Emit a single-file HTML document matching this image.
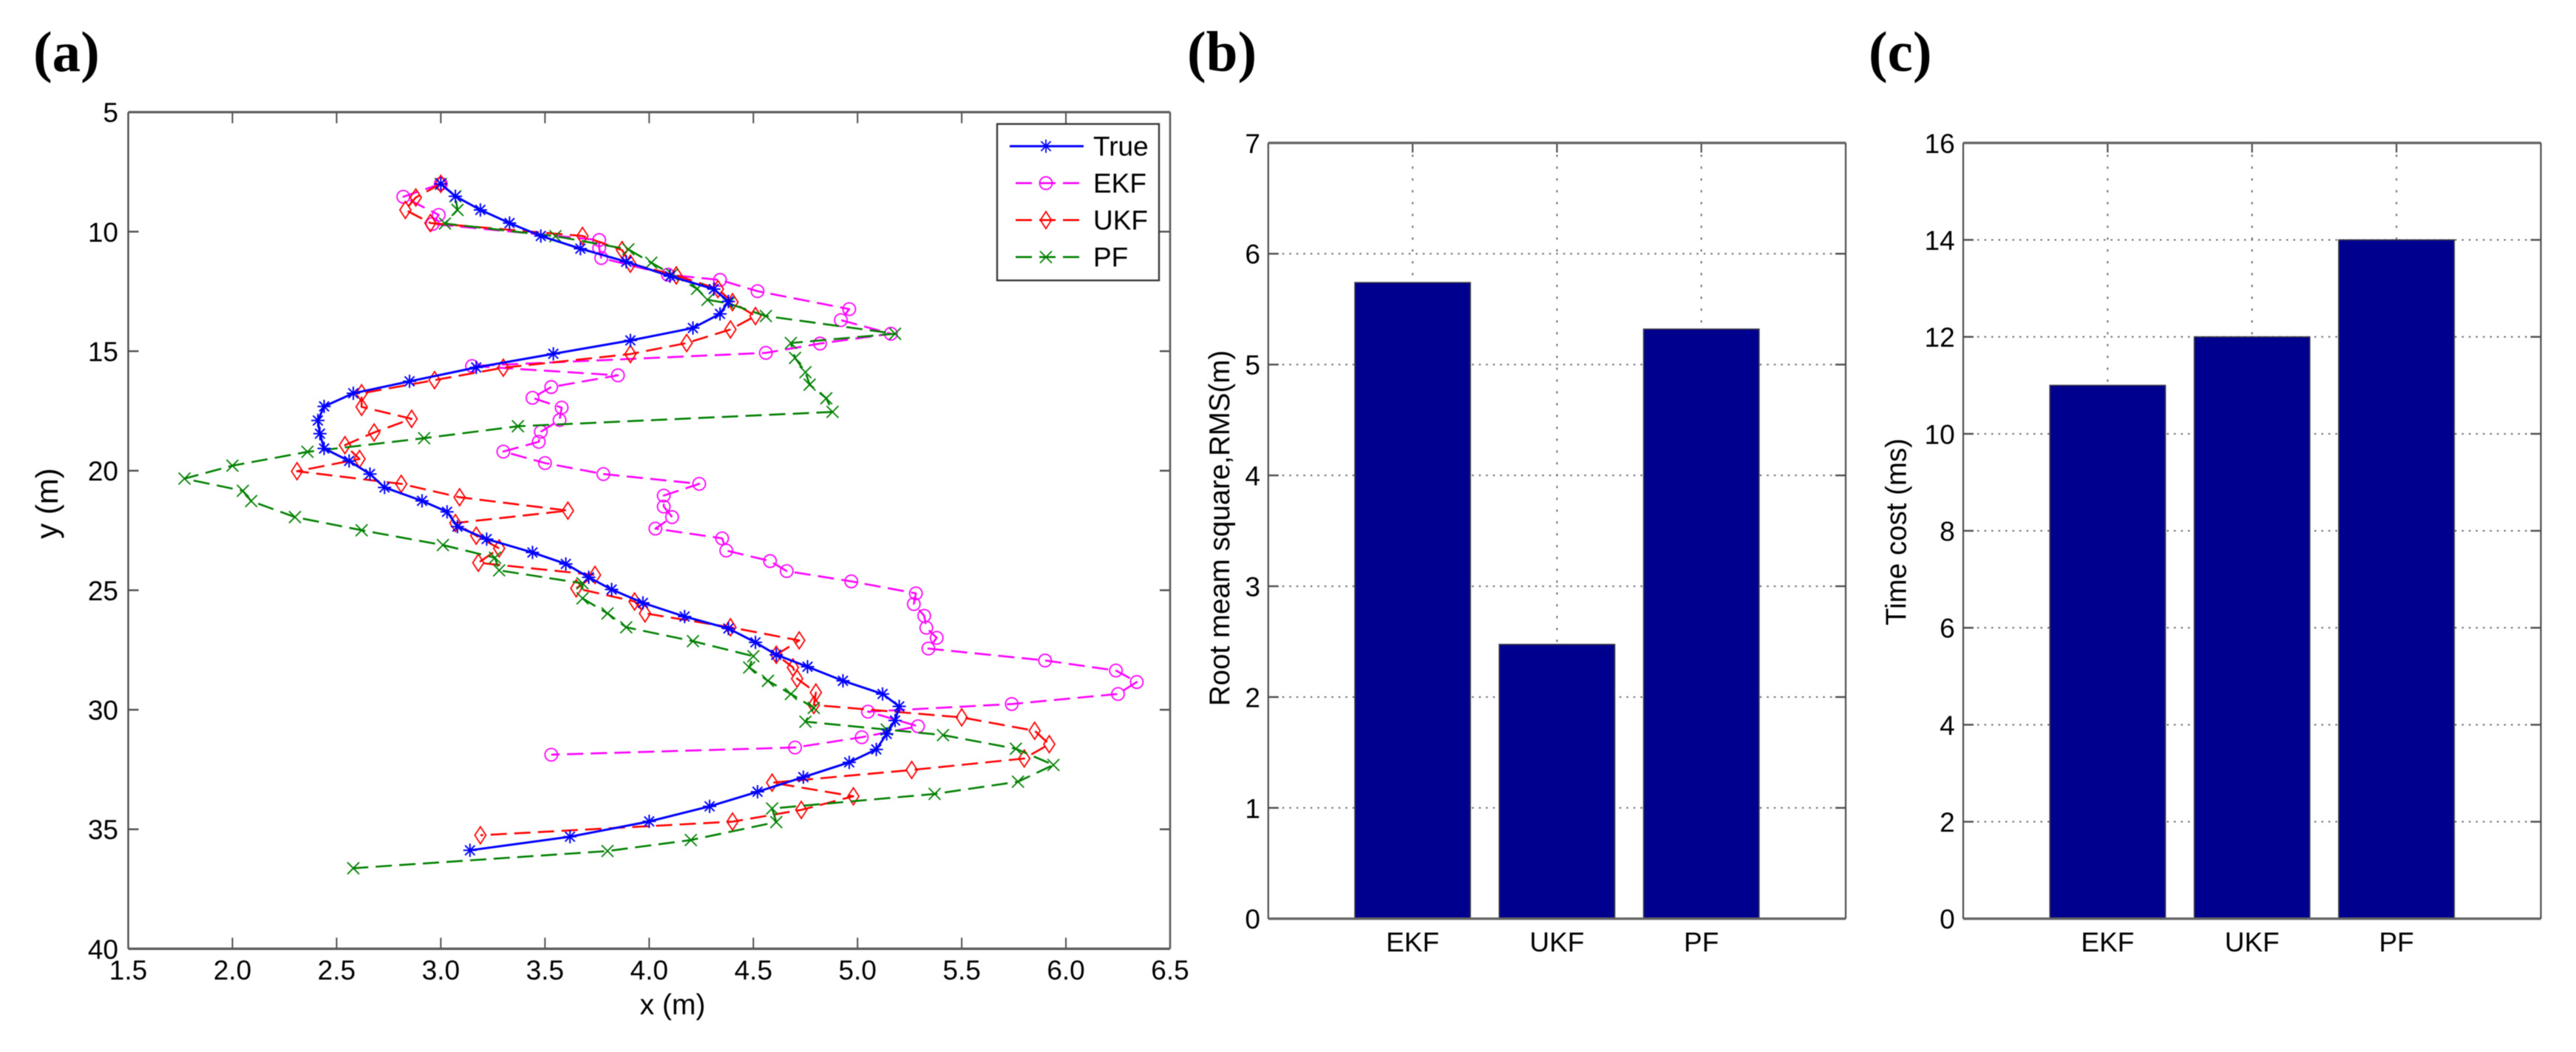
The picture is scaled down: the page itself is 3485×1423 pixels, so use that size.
<!DOCTYPE html>
<html lang="en">
<head>
<meta charset="utf-8">
<title>Tracking comparison of True, EKF, UKF and PF</title>
<style>
html,body{margin:0;padding:0;background:#fff;}
#figure{display:block;filter:blur(0.6px);}
text{font-family:"Liberation Sans",sans-serif;fill:#000;}
.panel-letter{font-family:"Liberation Serif",serif;font-weight:bold;font-size:77px;}
.axis-title{font-size:38.5px;}
</style>
</head>
<body>
<svg id="figure" xmlns="http://www.w3.org/2000/svg" width="3485" height="1423" viewBox="0 0 3485 1423">
  <rect x="0" y="0" width="3485" height="1423" fill="#ffffff"/>
  <text class="panel-letter" x="45" y="96">(a)</text>
  <text class="panel-letter" x="1606" y="96">(b)</text>
  <text class="panel-letter" x="2528" y="96">(c)</text>
  <g id="panel-a"></g>
  <g id="panel-b"></g>
  <g id="panel-c"></g>
  <text class="axis-title" x="910" y="1372" text-anchor="middle" style="font-size:39px">x (m)</text>
  <text class="axis-title" transform="translate(78,681) rotate(-90)" text-anchor="middle" style="font-size:42px">y (m)</text>
  <text class="axis-title" transform="translate(1663,955) rotate(-90)">Root meam square,RMS(m)</text>
  <text class="axis-title" transform="translate(2578.5,846) rotate(-90)">Time cost (ms)</text>
</svg>
<script>
const xTickValues = [1.5, 2.0, 2.5, 3.0, 3.5, 4.0, 4.5, 5.0, 5.5, 6.0, 6.5];
const xTickLabels = ["1.5", "2.0", "2.5", "3.0", "3.5", "4.0", "4.5", "5.0", "5.5", "6.0", "6.5"];
const yTickValues = [5, 10, 15, 20, 25, 30, 35, 40];
const yTickLabels = ["5", "10", "15", "20", "25", "30", "35", "40"];

const trueX = [3.0,3.07,3.19,3.33,3.48,3.67,3.89,4.10,4.31,4.38,4.34,4.21,3.91,3.54,3.17,2.85,2.58,2.44,2.41,2.42,2.44,2.56,2.66,2.73,2.91,3.03,3.08,3.22,3.44,3.60,3.71,3.82,3.97,4.17,4.38,4.51,4.61,4.76,4.93,5.12,5.2,5.18,5.14,5.09,4.96,4.74,4.52,4.29,4.0,3.62,3.14];
const trueY = [8.0,8.52,9.09,9.64,10.18,10.71,11.26,11.86,12.4,12.92,13.44,14.03,14.55,15.11,15.68,16.26,16.76,17.31,17.9,18.45,19.07,19.59,20.14,20.7,21.26,21.72,22.34,22.86,23.42,23.9,24.46,24.97,25.53,26.1,26.6,27.18,27.7,28.2,28.79,29.34,29.86,30.45,31.01,31.66,32.2,32.82,33.43,34.04,34.67,35.31,35.88];

const ekfX = [3.0,2.82,2.99,2.96,3.76,3.76,3.77,4.09,4.34,4.52,4.96,4.92,5.16,4.82,4.56,3.15,3.85,3.53,3.44,3.58,3.57,3.48,3.47,3.30,3.50,3.78,4.24,4.07,4.07,4.11,4.03,4.35,4.37,4.58,4.66,4.97,5.28,5.27,5.32,5.33,5.38,5.34,5.9,6.24,6.34,6.25,5.74,5.05,5.29,5.02,4.70,3.53];
const ekfY = [8.0,8.54,9.3,9.68,10.35,10.68,11.1,11.8,12.02,12.49,13.24,13.7,14.27,14.68,15.07,15.62,16.01,16.5,16.95,17.36,17.88,18.37,18.79,19.2,19.68,20.14,20.55,21.04,21.5,21.94,22.42,22.83,23.34,23.78,24.2,24.63,25.13,25.58,26.07,26.57,26.99,27.44,27.94,28.36,28.84,29.34,29.76,30.08,30.69,31.15,31.58,31.88];

const ukfX = [3.0,2.88,2.83,2.95,3.68,3.87,3.91,4.13,4.33,4.40,4.51,4.39,4.18,3.91,3.30,2.97,2.62,2.62,2.86,2.68,2.54,2.61,2.31,2.81,3.09,3.61,3.07,3.17,3.28,3.18,3.74,3.65,3.93,3.98,4.39,4.72,4.61,4.69,4.71,4.80,4.79,5.5,5.85,5.92,5.8,5.26,4.59,4.98,4.73,4.4,3.19];
const ukfY = [8.0,8.57,9.09,9.64,10.18,10.77,11.34,11.83,12.4,12.95,13.53,14.09,14.66,15.12,15.69,16.21,16.76,17.33,17.83,18.4,18.93,19.51,20.02,20.55,21.11,21.67,22.19,22.72,23.25,23.85,24.36,24.92,25.47,25.97,26.55,27.1,27.7,28.23,28.7,29.28,29.8,30.32,30.88,31.44,32.04,32.52,33.05,33.62,34.19,34.68,35.25];

const pfX = [3.0,3.07,3.08,3.02,3.55,3.9,4.01,4.11,4.23,4.28,4.38,4.56,5.18,4.68,4.70,4.75,4.77,4.85,4.88,3.37,2.92,2.36,2.0,1.77,2.05,2.09,2.30,2.62,3.01,3.26,3.28,3.68,3.68,3.80,3.89,4.21,4.5,4.48,4.57,4.68,4.79,4.75,5.14,5.41,5.76,5.94,5.77,5.37,4.59,4.61,4.2,3.80,2.58];
const pfY = [8.0,8.52,9.09,9.66,10.19,10.74,11.3,11.79,12.39,12.85,13.0,13.53,14.27,14.66,15.28,15.88,16.4,16.97,17.54,18.14,18.64,19.21,19.79,20.33,20.84,21.27,21.94,22.49,23.11,23.64,24.17,24.71,25.34,25.97,26.55,27.13,27.76,28.23,28.79,29.34,29.92,30.5,30.83,31.06,31.63,32.31,33.01,33.52,34.13,34.7,35.45,35.91,36.63];

const legendLabels = ["True", "EKF", "UKF", "PF"];

const barCategories = ["EKF", "UKF", "PF"];
const rmsValues = [5.74, 2.475, 5.32];
const rmsTicks = [0, 1, 2, 3, 4, 5, 6, 7];
const timeValues = [11, 12, 14];
const timeTicks = [0, 2, 4, 6, 8, 10, 12, 14, 16];

const SVGNS = "http://www.w3.org/2000/svg";
const AXIS_DARK = "#4d4d4d";

function make(parent, tag, attrs) {
  const el = document.createElementNS(SVGNS, tag);
  for (const k in attrs) el.setAttribute(k, attrs[k]);
  parent.appendChild(el);
  return el;
}

function seg(parent, name, x1, y1, x2, y2, stroke, width, dash) {
  const el = make(parent, "line", {x1: x1, y1: y1, x2: x2, y2: y2, stroke: stroke, "stroke-width": width});
  if (dash) el.setAttribute("stroke-dasharray", dash);
  
  
  return el;
}

function label(parent, name, x, y, str, anchor, size) {
  const el = make(parent, "text", {x: x, y: y, "text-anchor": anchor, "font-size": size});
  el.textContent = str;
  
  
  return el;
}

function markerPath(kind, x, y) {
  if (kind === "asterisk") {
    const r = 9, d = 6.6;
    return `M${x - r} ${y}H${x + r}M${x} ${y - r}V${y + r}M${x - d} ${y - d}L${x + d} ${y + d}M${x - d} ${y + d}L${x + d} ${y - d}`;
  }
  if (kind === "circle") {
    const r = 8.5;
    return `M${x - r} ${y}A${r} ${r} 0 1 0 ${x + r} ${y}A${r} ${r} 0 1 0 ${x - r} ${y}Z`;
  }
  if (kind === "diamond") {
    return `M${x} ${y - 11.5}L${x + 7.5} ${y}L${x} ${y + 11.5}L${x - 7.5} ${y}Z`;
  }
  const c = 8;
  return `M${x - c} ${y - c}L${x + c} ${y + c}M${x - c} ${y + c}L${x + c} ${y - c}`;
}

/* ---------- panel (a) ---------- */
const frameA = {left: 173.5, right: 1583, top: 151.7, bottom: 1283.4};
const xMinA = 1.5, xMaxA = 6.5, yMinA = 5, yMaxA = 40;

function xA(v) { return frameA.left + (v - xMinA) / (xMaxA - xMinA) * (frameA.right - frameA.left); }
function yA(v) { return frameA.top + (v - yMinA) / (yMaxA - yMinA) * (frameA.bottom - frameA.top); }

function drawSeries(parent, name, xs, ys, color, width, dash, kind) {
  const g = make(parent, "g", {});
  
  
  const pts = xs.map((v, i) => xA(v).toFixed(1) + "," + yA(ys[i]).toFixed(1)).join(" ");
  const line = make(g, "polyline", {points: pts, fill: "none", stroke: color, "stroke-width": width, "stroke-linejoin": "round"});
  if (dash) line.setAttribute("stroke-dasharray", dash);
  
  
  xs.forEach((v, i) => {
    const m = make(g, "path", {d: markerPath(kind, xA(v), yA(ys[i])), fill: "none", stroke: color, "stroke-width": kind === "asterisk" ? 2 : 1.8});
    
    
  });
}

function drawPanelA() {
  const p = document.getElementById("panel-a");
  xTickValues.forEach((v, i) => {
    if (i > 0 && i < xTickValues.length - 1) {
      seg(p, "x-tick-bottom", xA(v), frameA.bottom, xA(v), frameA.bottom - 15, AXIS_DARK, 2);
      seg(p, "x-tick-top", xA(v), frameA.top, xA(v), frameA.top + 15, AXIS_DARK, 2);
    }
    label(p, "x-tick-label", xA(v), 1325, xTickLabels[i], "middle", 37);
  });
  yTickValues.forEach((v, i) => {
    if (i > 0 && i < yTickValues.length - 1) {
      seg(p, "y-tick-left", frameA.left, yA(v), frameA.left + 14, yA(v), AXIS_DARK, 2.4);
      seg(p, "y-tick-right", frameA.right, yA(v), frameA.right - 14, yA(v), AXIS_DARK, 2.4);
    }
    label(p, "y-tick-label", 160, yA(v) + 13.5, yTickLabels[i], "end", 37);
  });
  seg(p, "axis-top", frameA.left, frameA.top, frameA.right, frameA.top, "#5a5a5a", 3.2);
  seg(p, "axis-bottom", frameA.left, frameA.bottom, frameA.right, frameA.bottom, "#5a5a5a", 3.2);
  seg(p, "axis-left", frameA.left, frameA.top, frameA.left, frameA.bottom, AXIS_DARK, 2.4);
  seg(p, "axis-right", frameA.right, frameA.top, frameA.right, frameA.bottom, "#5a5a5a", 2.6);

  drawSeries(p, "ekf", ekfX, ekfY, "#ff00ff", 2.6, "22 10", "circle");
  drawSeries(p, "ukf", ukfX, ukfY, "#ff0000", 2.6, "22 10", "diamond");
  drawSeries(p, "pf", pfX, pfY, "#008000", 2.6, "22 10", "x");
  drawSeries(p, "true", trueX, trueY, "#0000ff", 3, null, "asterisk");

  /* legend */
  const lg = make(p, "g", {});
  
  
  const box = make(lg, "rect", {x: 1349, y: 167.7, width: 219, height: 211.6, fill: "#ffffff", stroke: "#3a3a3a", "stroke-width": 2.4});
  
  
  const legendColors = ["#0000ff", "#ff00ff", "#ff0000", "#008000"];
  const legendKinds = ["asterisk", "circle", "diamond", "x"];
  legendLabels.forEach((t, i) => {
    const ly = 197.7 + i * 50;
    const sample = seg(lg, "legend-line", 1366 + (i ? 8 : 0), ly, 1466, ly, legendColors[i], i ? 2.6 : 3, i ? "22 10" : null);
    sample.setAttribute("stroke-dashoffset", i ? 0 : null);
    const m = make(lg, "path", {d: markerPath(legendKinds[i], 1415, ly), fill: "none", stroke: legendColors[i], "stroke-width": 1.8});
    
    
    label(lg, "legend-entry", 1479, ly + 13, t, "start", 37);
  });
}

/* ---------- panels (b), (c) ---------- */
function drawBars(panelId, frame, values, ticks, labelRight) {
  const p = document.getElementById(panelId);
  const yMax = ticks[ticks.length - 1];
  const xB = c => frame.left + (c + 1) / 4 * (frame.right - frame.left);
  const yB = v => frame.bottom - v / yMax * (frame.bottom - frame.top);
  const barW = 0.8 * (frame.right - frame.left) / 4;
  const GRID = "#6a6a6a";

  ticks.forEach(v => {
    if (v > 0 && v < yMax) {
      seg(p, "grid-horizontal", frame.left, yB(v), frame.right, yB(v), GRID, 2, "2.5 7");
      seg(p, "y-tick-left", frame.left, yB(v), frame.left + 14, yB(v), AXIS_DARK, 2.4);
      seg(p, "y-tick-right", frame.right, yB(v), frame.right - 14, yB(v), AXIS_DARK, 2.4);
    }
    label(p, "y-tick-label", labelRight, yB(v) + 13.5, String(v), "end", 37);
  });
  barCategories.forEach((c, i) => {
    seg(p, "grid-vertical", xB(i), frame.top, xB(i), frame.bottom, GRID, 2, "3 13");
    seg(p, "x-tick-top", xB(i), frame.top, xB(i), frame.top + 13, AXIS_DARK, 2.2);
    label(p, "x-tick-label", xB(i), 1287, c, "middle", 37);
  });
  values.forEach((v, i) => {
    const bar = make(p, "rect", {x: xB(i) - barW / 2, y: yB(v), width: barW, height: yB(0) - yB(v), fill: "#00008f", stroke: "#3c3c46", "stroke-width": 1.6});
    
    
  });
  seg(p, "axis-top", frame.left, frame.top, frame.right, frame.top, "#666666", 3.4);
  seg(p, "axis-bottom", frame.left, frame.bottom, frame.right, frame.bottom, "#666666", 3.4);
  seg(p, "axis-left", frame.left, frame.top, frame.left, frame.bottom, AXIS_DARK, 2.2);
  seg(p, "axis-right", frame.right, frame.top, frame.right, frame.bottom, AXIS_DARK, 2.2);
}

drawPanelA();
drawBars("panel-b", {left: 1715.8, right: 2497, top: 193.3, bottom: 1242.7}, rmsValues, rmsTicks, 1705);
drawBars("panel-c", {left: 2656, right: 3437.5, top: 193.3, bottom: 1242.7}, timeValues, timeTicks, 2644.7);
</script>
</body>
</html>
